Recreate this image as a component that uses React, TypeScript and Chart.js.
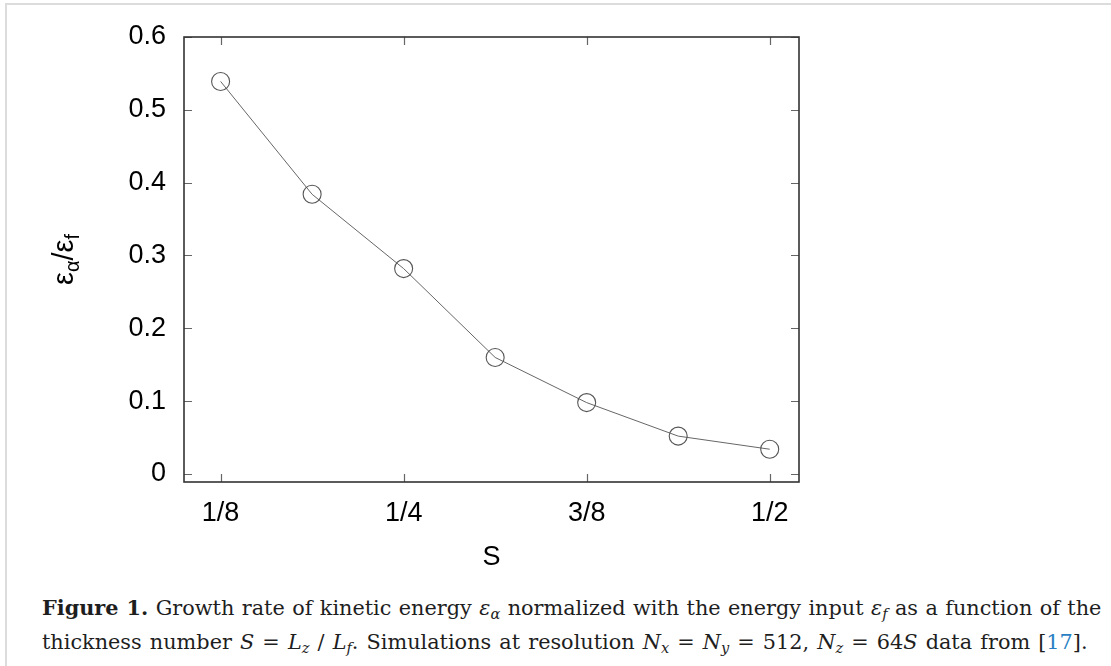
import React, { useEffect, useRef } from "react";
import { Chart, registerables } from "chart.js";

Chart.register(...registerables);

// ---- data ----
const sValues = [0.125, 0.1875, 0.25, 0.3125, 0.375, 0.4375, 0.5];
const ratioValues = [0.539, 0.384, 0.282, 0.16, 0.098, 0.052, 0.034];
const xTickValues = [0.125, 0.25, 0.375, 0.5];
const xTickLabels = ["1/8", "1/4", "3/8", "1/2"];
const yTickValues = [0, 0.1, 0.2, 0.3, 0.4, 0.5, 0.6];
const yTickLabels = ["0", "0.1", "0.2", "0.3", "0.4", "0.5", "0.6"];
const xTitle = "S";

const SANS = "'Liberation Sans', Arial, sans-serif";
const FONT_SIZE = 27;

const labelFor = (vals: number[], labels: string[], v: number) => {
  const i = vals.findIndex((t) => Math.abs(t - v) < 1e-9);
  return i >= 0 ? labels[i] : "";
};

const framePlugin = {
  id: "gnuplotFrame",
  afterDraw(chart: any) {
    const { ctx, chartArea: a, scales } = chart;
    const xs = scales.x;
    const ys = scales.y;
    ctx.save();
    // inward ticks on all four sides
    ctx.strokeStyle = "#666";
    ctx.lineWidth = 1.2;
    ctx.beginPath();
    xTickValues.forEach((v) => {
      const px = Math.round(xs.getPixelForValue(v)) + 0.5;
      ctx.moveTo(px, a.bottom);
      ctx.lineTo(px, a.bottom - 8);
      ctx.moveTo(px, a.top);
      ctx.lineTo(px, a.top + 8);
    });
    yTickValues.forEach((v) => {
      const py = Math.round(ys.getPixelForValue(v)) + 0.5;
      ctx.moveTo(a.left, py);
      ctx.lineTo(a.left + 8, py);
      ctx.moveTo(a.right, py);
      ctx.lineTo(a.right - 8, py);
    });
    ctx.stroke();
    // frame
    ctx.strokeStyle = "#333";
    ctx.lineWidth = 1.6;
    ctx.strokeRect(a.left, a.top, a.right - a.left, a.bottom - a.top);

    // x title
    ctx.fillStyle = "#000";
    ctx.font = `${FONT_SIZE}px ${SANS}`;
    ctx.textAlign = "center";
    ctx.textBaseline = "alphabetic";
    ctx.fillText(xTitle, (a.left + a.right) / 2, 565);

    // y title: ε_α / ε_f (rotated)
    const big = `29px ${SANS}`;
    const small = `20px ${SANS}`;
    const parts: [string, string, number][] = [
      ["ε", big, 0],
      ["α", small, 6],
      ["/ε", big, 0],
      ["f", small, 6],
    ];
    let total = 0;
    parts.forEach(([t, f]) => {
      ctx.font = f;
      total += ctx.measureText(t).width;
    });
    ctx.translate(73, (a.top + a.bottom) / 2);
    ctx.rotate(-Math.PI / 2);
    ctx.textAlign = "left";
    let cx = -total / 2;
    parts.forEach(([t, f, dy]) => {
      ctx.font = f;
      ctx.fillText(t, cx, dy);
      cx += ctx.measureText(t).width;
    });
    ctx.restore();
  },
};

function ChartCanvas() {
  const ref = useRef<HTMLCanvasElement | null>(null);
  useEffect(() => {
    if (!ref.current) return;
    const chart = new Chart(ref.current, {
      type: "line",
      data: {
        datasets: [
          {
            data: sValues.map((s, i) => ({ x: s, y: ratioValues[i] })),
            borderColor: "#666",
            borderWidth: 1,
            pointRadius: 9,
            pointHoverRadius: 9,
            pointBorderColor: "#555",
            pointBorderWidth: 1.1,
            pointBackgroundColor: "rgba(0,0,0,0)",
            tension: 0,
            fill: false,
          },
        ],
      },
      options: {
        responsive: false,
        animation: false,
        devicePixelRatio: 1,
        layout: { padding: { left: 0, top: 37, right: 312, bottom: 0 } },
        plugins: {
          legend: { display: false },
          tooltip: { enabled: false },
        },
        scales: {
          x: {
            type: "linear",
            min: 0.1,
            max: 0.52,
            afterBuildTicks: (s: any) => {
              s.ticks = xTickValues.map((v) => ({ value: v }));
            },
            afterFit: (s: any) => {
              s.height = 98;
            },
            ticks: {
              autoSkip: false,
              maxRotation: 0,
              padding: 15,
              color: "#000",
              font: { family: SANS, size: FONT_SIZE },
              callback: (v: any) => labelFor(xTickValues, xTickLabels, Number(v)),
            },
            grid: { display: false, drawTicks: false },
            border: { display: false },
          },
          y: {
            type: "linear",
            min: -0.011,
            max: 0.6,
            afterBuildTicks: (s: any) => {
              s.ticks = yTickValues.map((v) => ({ value: v }));
            },
            afterFit: (s: any) => {
              s.width = 184;
            },
            ticks: {
              autoSkip: false,
              padding: 18,
              color: "#000",
              font: { family: SANS, size: FONT_SIZE },
              callback: (v: any) => labelFor(yTickValues, yTickLabels, Number(v)),
            },
            grid: { display: false, drawTicks: false },
            border: { display: false },
          },
        },
      },
      plugins: [framePlugin],
    });
    return () => chart.destroy();
  }, []);
  return (
    <canvas
      ref={ref}
      width={1111}
      height={580}
      style={{ position: "absolute", left: 0, top: 0, width: 1111, height: 580 }}
    />
  );
}

const sub = (content: React.ReactNode) => (
  <span style={{ fontSize: "0.7em", position: "relative", top: "0.3em" }}>{content}</span>
);

export default function App() {
  return (
    <div style={{ position: "relative", width: 1111, height: 666, background: "#fff", overflow: "hidden" }}>
      <style>{"body{margin:0;background:#fff}"}</style>
      <div
        style={{
          position: "absolute",
          left: 5,
          top: 3,
          right: -10,
          bottom: -10,
          borderLeft: "2px solid #dcdcdc",
          borderTop: "2px solid #dcdcdc",
        }}
      />
      <ChartCanvas />
      <div
        style={{
          position: "absolute",
          left: 42,
          top: 591,
          fontFamily: "'DejaVu Serif', serif",
          fontSize: 20.8,
          lineHeight: "33px",
          color: "#1e1e1e",
          whiteSpace: "nowrap",
        }}
      >
        <div style={{ wordSpacing: "0.8px" }}>
          <b>Figure 1.</b> Growth rate of kinetic energy <i>ε</i>
          {sub(<i>α</i>)} normalized with the energy input <i>ε</i>
          {sub(<i>f</i>)} as a function of the
        </div>
        <div style={{ wordSpacing: "1.5px" }}>
          thickness number <i>S</i> = <i>L</i>
          {sub(<i>z</i>)} / <i>L</i>
          {sub(<i>f</i>)}. Simulations at resolution <i>N</i>
          {sub(<i>x</i>)} = <i>N</i>
          {sub(<i>y</i>)} = 512, <i>N</i>
          {sub(<i>z</i>)} = 64<i>S</i> data from [<span style={{ color: "#2a7fc4" }}>17</span>].
        </div>
      </div>
    </div>
  );
}
